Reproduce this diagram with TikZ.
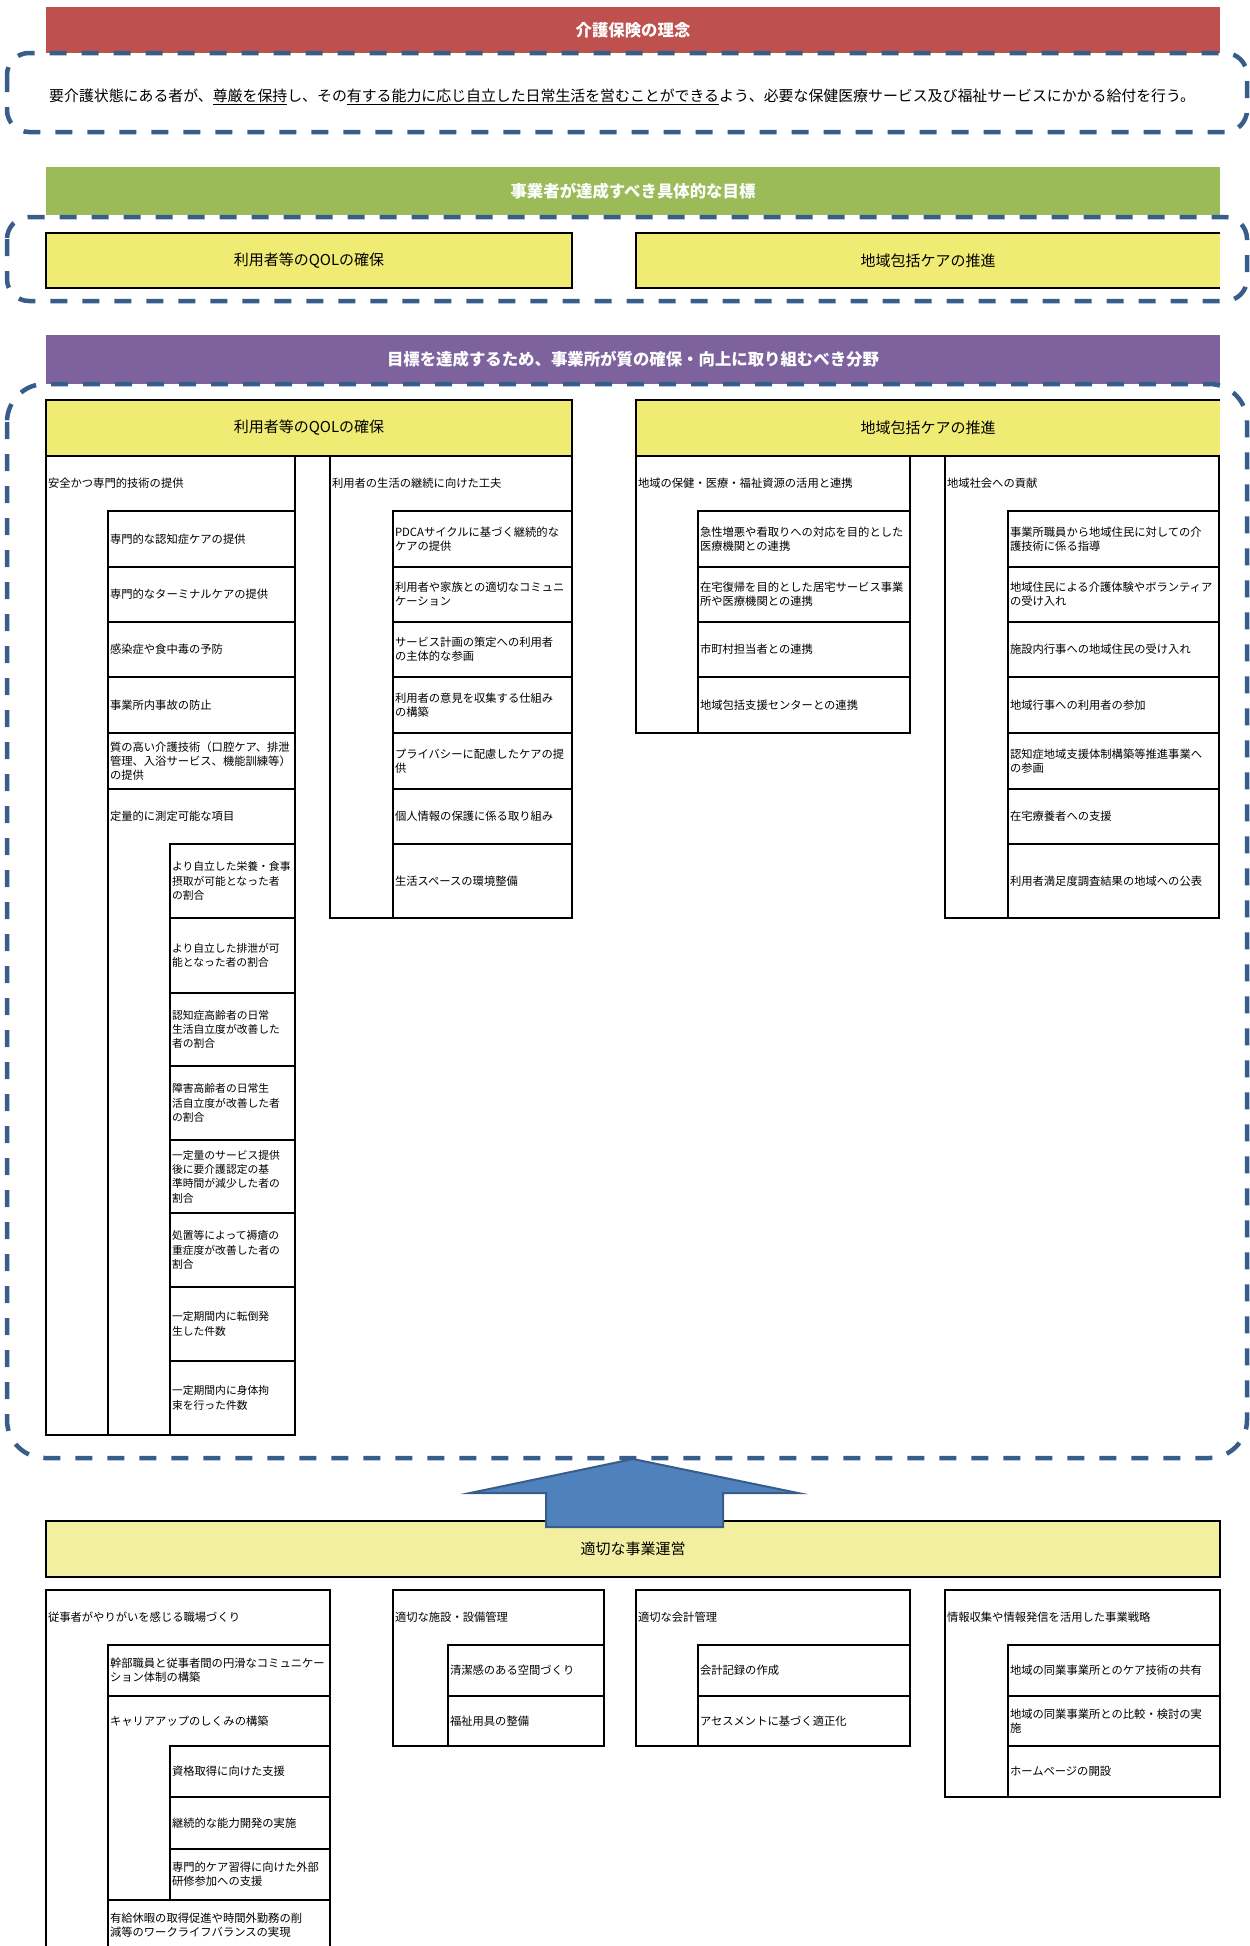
\documentclass[tikz,border=0pt]{standalone}
\usepackage{fontspec}
\setmainfont{Noto Sans CJK JP}
\definecolor{barred}{RGB}{190,80,77}
\definecolor{bargreen}{RGB}{155,187,89}
\definecolor{barpurple}{RGB}{125,98,158}
\definecolor{hdryellow}{RGB}{240,235,115}
\definecolor{paleyellow}{RGB}{242,240,160}
\definecolor{dashblue}{RGB}{56,93,138}
\definecolor{arrowfill}{RGB}{79,129,189}
\newcommand\cellfont{\fontsize{11.3}{14}\selectfont}
\newcommand\subcellfont{\fontsize{10.8}{14.3}\selectfont}
\newcommand\mycell[7][]{%
  \pgfmathsetmacro\cw{#5-#3}%
  \pgfmathsetmacro\ch{#6-#4}%
  \pgfmathsetmacro\tw{#5-#3-4}%
  \node[cellbox,minimum width=\cw pt,minimum height=\ch pt,text width=\tw pt,#1] (#2) at (#3,#4) {#7};}
\newcommand\ulin[1]{\setbox0=\hbox{#1}\rlap{\raisebox{-3.4pt}{\rule{\wd0}{1.5pt}}}\box0}
\tikzset{
  cellbox/.style={draw=black,line width=1.1pt,anchor=north west,inner xsep=2pt,inner ysep=0pt,outer sep=0pt,align=left,font=\cellfont},
  subcell/.style={font=\subcellfont},
  nobox/.style={draw=none},
  bartitle/.style={draw=none,align=center,font=\fontsize{16.4}{20}\selectfont\bfseries,text=white},
  hdrbox/.style={fill=hdryellow,line width=1.5pt,align=center,font=\fontsize{15}{18}\selectfont},
  hdrline/.style={line width=1.5pt,draw=black},
  dashbox/.style={draw=dashblue,line width=4.5pt,dash pattern=on 17pt off 15pt},
  bigarrow/.style={fill=arrowfill,draw=dashblue,line width=2pt,line join=miter}
}
\begin{document}
\begin{tikzpicture}[x=1pt,y=-1pt]
\useasboundingbox (0,0) rectangle (1250,1946);
% ---------- section 1 ----------
\mycell[bartitle,fill=barred]{barA}{46}{7}{1220}{53}{介護保険の理念}
\draw[dashbox,rounded corners=22pt] (7,53) rectangle (1247,132);
\node[anchor=west,inner sep=0pt,font=\fontsize{14.9}{18}\selectfont] (rinen) at (49,97)
  {要介護状態にある者が、\ulin{尊厳を保持}し、その\ulin{有する能力に応じ自立した日常生活を営むことができる}よう、必要な保健医療サービス及び福祉サービスにかかる給付を行う。};
% ---------- section 2 ----------
\mycell[bartitle,fill=bargreen]{barB}{46}{167}{1220}{215}{事業者が達成すべき具体的な目標}
\draw[dashbox,rounded corners=22pt] (7,217) rectangle (1247,301);
\mycell[hdrbox]{goalL}{46}{233}{572}{288}{利用者等のQOLの確保}
\mycell[hdrbox,draw=none]{goalR}{636}{233}{1220}{288}{地域包括ケアの推進}
\draw[hdrline] (goalR.north east) -- (goalR.north west) -- (goalR.south west) -- (goalR.south east);
% ---------- section 3 ----------
\mycell[bartitle,fill=barpurple]{barC}{46}{335}{1220}{384}{目標を達成するため、事業所が質の確保・向上に取り組むべき分野}
\draw[dashbox,rounded corners=38pt] (7,384) rectangle (1247,1458);
\mycell[hdrbox]{qolH}{46}{400}{572}{456}{利用者等のQOLの確保}
\mycell[hdrbox,draw=none]{chiikiH}{636}{400}{1220}{456}{地域包括ケアの推進}
\draw[hdrline] (chiikiH.north east) -- (chiikiH.north west) -- (chiikiH.south west) -- (chiikiH.south east);
% column A
\mycell{colA}{46}{456}{295}{1435}{}
\mycell[nobox]{colAlbl}{46}{456}{295}{511}{安全かつ専門的技術の提供}
\mycell{a1}{108}{511}{295}{567}{専門的な認知症ケアの提供}
\mycell{a2}{108}{567}{295}{622}{専門的なターミナルケアの提供}
\mycell{a3}{108}{622}{295}{677}{感染症や食中毒の予防}
\mycell{a4}{108}{677}{295}{733}{事業所内事故の防止}
\mycell{a5}{108}{733}{295}{789}{質の高い介護技術（口腔ケア、排泄\\管理、入浴サービス、機能訓練等）\\の提供}
\mycell{a6}{108}{789}{295}{1435}{}
\mycell[nobox]{a6lbl}{108}{789}{295}{844}{定量的に測定可能な項目}
\mycell[subcell]{a6a}{170}{844}{295}{918}{より自立した栄養・食事\\摂取が可能となった者\\の割合}
\mycell[subcell]{a6b}{170}{918}{295}{993}{より自立した排泄が可\\能となった者の割合}
\mycell[subcell]{a6c}{170}{993}{295}{1066}{認知症高齢者の日常\\生活自立度が改善した\\者の割合}
\mycell[subcell]{a6d}{170}{1066}{295}{1140}{障害高齢者の日常生\\活自立度が改善した者\\の割合}
\mycell[subcell]{a6e}{170}{1140}{295}{1213}{一定量のサービス提供\\後に要介護認定の基\\準時間が減少した者の\\割合}
\mycell[subcell]{a6f}{170}{1213}{295}{1287}{処置等によって褥瘡の\\重症度が改善した者の\\割合}
\mycell[subcell]{a6g}{170}{1287}{295}{1361}{一定期間内に転倒発\\生した件数}
\mycell[subcell]{a6h}{170}{1361}{295}{1435}{一定期間内に身体拘\\束を行った件数}
% column B
\mycell{colB}{330}{456}{572}{918}{}
\mycell[nobox]{colBlbl}{330}{456}{572}{511}{利用者の生活の継続に向けた工夫}
\mycell{b1}{393}{511}{572}{567}{PDCAサイクルに基づく継続的な\\ケアの提供}
\mycell{b2}{393}{567}{572}{622}{利用者や家族との適切なコミュニ\\ケーション}
\mycell{b3}{393}{622}{572}{677}{サービス計画の策定への利用者\\の主体的な参画}
\mycell{b4}{393}{677}{572}{733}{利用者の意見を収集する仕組み\\の構築}
\mycell{b5}{393}{733}{572}{789}{プライバシーに配慮したケアの提\\供}
\mycell{b6}{393}{789}{572}{844}{個人情報の保護に係る取り組み}
\mycell{b7}{393}{844}{572}{918}{生活スペースの環境整備}
% column C
\mycell{colC}{636}{456}{910}{733}{}
\mycell[nobox]{colClbl}{636}{456}{910}{511}{地域の保健・医療・福祉資源の活用と連携}
\mycell{c1}{698}{511}{910}{567}{急性増悪や看取りへの対応を目的とした\\医療機関との連携}
\mycell{c2}{698}{567}{910}{622}{在宅復帰を目的とした居宅サービス事業\\所や医療機関との連携}
\mycell{c3}{698}{622}{910}{677}{市町村担当者との連携}
\mycell{c4}{698}{677}{910}{733}{地域包括支援センターとの連携}
% column D
\mycell{colD}{945}{456}{1219}{918}{}
\mycell[nobox]{colDlbl}{945}{456}{1219}{511}{地域社会への貢献}
\mycell{d1}{1008}{511}{1219}{567}{事業所職員から地域住民に対しての介\\護技術に係る指導}
\mycell{d2}{1008}{567}{1219}{622}{地域住民による介護体験やボランティア\\の受け入れ}
\mycell{d3}{1008}{622}{1219}{677}{施設内行事への地域住民の受け入れ}
\mycell{d4}{1008}{677}{1219}{733}{地域行事への利用者の参加}
\mycell{d5}{1008}{733}{1219}{789}{認知症地域支援体制構築等推進事業へ\\の参画}
\mycell{d6}{1008}{789}{1219}{844}{在宅療養者への支援}
\mycell{d7}{1008}{844}{1219}{918}{利用者満足度調査結果の地域への公表}
% ---------- section 4 ----------
\mycell[hdrbox,fill=paleyellow]{unei}{46}{1521}{1220}{1577}{適切な事業運営}
\draw[bigarrow] (633,1459) -- (798,1493) -- (723,1493) -- (723,1527) -- (546,1527) -- (546,1493) -- (470,1493) -- cycle;
% column E
\mycell{colE}{46}{1590}{330}{1965}{}
\mycell[nobox]{colElbl}{46}{1590}{330}{1645}{従事者がやりがいを感じる職場づくり}
\mycell{e1}{108}{1645}{330}{1696}{幹部職員と従事者間の円滑なコミュニケー\\ション体制の構築}
\mycell{e2}{108}{1696}{330}{1900}{}
\mycell[nobox]{e2lbl}{108}{1696}{330}{1746}{キャリアアップのしくみの構築}
\mycell{e2a}{170}{1746}{330}{1797}{資格取得に向けた支援}
\mycell{e2b}{170}{1797}{330}{1849}{継続的な能力開発の実施}
\mycell{e2c}{170}{1849}{330}{1900}{専門的ケア習得に向けた外部\\研修参加への支援}
\mycell{e3}{108}{1900}{330}{1951}{有給休暇の取得促進や時間外勤務の削\\減等のワークライフバランスの実現}
% column F
\mycell{colF}{393}{1590}{604}{1746}{}
\mycell[nobox]{colFlbl}{393}{1590}{604}{1645}{適切な施設・設備管理}
\mycell{f1}{448}{1645}{604}{1696}{清潔感のある空間づくり}
\mycell{f2}{448}{1696}{604}{1746}{福祉用具の整備}
% column G
\mycell{colG}{636}{1590}{910}{1746}{}
\mycell[nobox]{colGlbl}{636}{1590}{910}{1645}{適切な会計管理}
\mycell{g1}{698}{1645}{910}{1696}{会計記録の作成}
\mycell{g2}{698}{1696}{910}{1746}{アセスメントに基づく適正化}
% column H
\mycell{colH}{945}{1590}{1220}{1797}{}
\mycell[nobox]{colHlbl}{945}{1590}{1220}{1645}{情報収集や情報発信を活用した事業戦略}
\mycell{h1}{1008}{1645}{1220}{1696}{地域の同業事業所とのケア技術の共有}
\mycell{h2}{1008}{1696}{1220}{1746}{地域の同業事業所との比較・検討の実\\施}
\mycell{h3}{1008}{1746}{1220}{1797}{ホームページの開設}
\end{tikzpicture}
\end{document}
